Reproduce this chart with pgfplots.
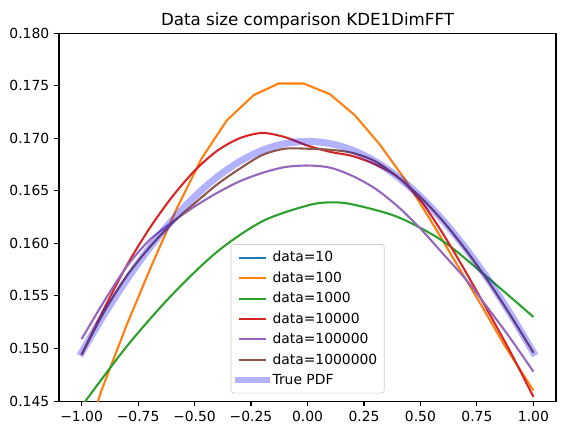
\documentclass[border=0pt]{standalone}
\usepackage{pgfplots}
\pgfplotsset{compat=1.18}
\usepackage{fontspec}
\setmainfont{DejaVu Sans}

% matplotlib "tab10" colours
\definecolor{c0}{HTML}{1F77B4}
\definecolor{c1}{HTML}{FF7F0E}
\definecolor{c2}{HTML}{2CA02C}
\definecolor{c3}{HTML}{D62728}
\definecolor{c4}{HTML}{9467BD}
\definecolor{c5}{HTML}{8C564B}

\begin{document}
\begin{tikzpicture}
\useasboundingbox (-42.48pt,-24.48pt) rectangle (364.32pt,288.76pt);
\begin{axis}[
  at={(0pt,0pt)}, anchor=south west,
  scale only axis, width=357.84pt, height=264.96pt,
  xmin=-1.1, xmax=1.1, ymin=0.145, ymax=0.180,
  axis line style={line width=0.8pt},
  tick style={line width=0.8pt, black},
  tick align=outside, major tick length=3.5pt,
  xtick pos=bottom, ytick pos=left,
  xtick={-1,-0.75,-0.5,-0.25,0,0.25,0.5,0.75,1},
  xticklabels={−1.00,−0.75,−0.50,−0.25,0.00,0.25,0.50,0.75,1.00},
  ytick={0.145,0.150,0.155,0.160,0.165,0.170,0.175,0.180},
  yticklabels={0.145,0.150,0.155,0.160,0.165,0.170,0.175,0.180},
  ticklabel style={font=\fontsize{10}{12}\selectfont},
  title={Data size comparison KDE1DimFFT},
  every axis title/.style={at={(0.5,1)}, anchor=base, yshift=5.8pt,
    font=\fontsize{12}{14}\selectfont},
  legend style={at={(0.3455,0.021)}, anchor=south west, draw=black!20,
    rounded corners=2pt, font=\fontsize{10}{12}\selectfont,
    row sep=1.6pt, inner sep=3pt},
  legend cell align=left,
  legend image code/.code={\draw[#1] (0cm,0cm) -- (0.7cm,0cm);},
]
% data=10 has no points inside the plotted window
\addlegendimage{c0, line width=1.5pt}
\addlegendentry{data=10}

\addplot[c1, line width=1.5pt] coordinates {
(-1.0,0.1403) (-0.912,0.1460) (-0.801,0.1522) (-0.690,0.1579) (-0.579,0.1633)
(-0.468,0.1681) (-0.357,0.1717) (-0.238,0.1741) (-0.128,0.1752) (-0.017,0.1752)
(0.098,0.1742) (0.209,0.1722) (0.320,0.1694) (0.431,0.1661) (0.542,0.1623)
(0.653,0.1583) (0.764,0.1543) (0.875,0.1502) (1.0,0.1460)};
\addlegendentry{data=100}

\addplot[c2, line width=1.5pt, smooth] coordinates {
(-1.0,0.1445) (-0.8,0.1502) (-0.6,0.1551) (-0.4,0.1592) (-0.2,0.1621)
(0.0,0.1636) (0.1,0.1639) (0.2,0.1637) (0.4,0.1625) (0.6,0.1602)
(0.8,0.1567) (1.0,0.1530)};
\addlegendentry{data=1000}

\addplot[c3, line width=1.5pt, smooth] coordinates {
(-1.0,0.1494) (-0.9,0.1538) (-0.8,0.1579) (-0.7,0.1614) (-0.6,0.1644)
(-0.5,0.1669) (-0.4,0.1688) (-0.3,0.1700) (-0.2,0.1705) (-0.1,0.1701)
(0.0,0.1693) (0.1,0.1687) (0.2,0.1683) (0.3,0.1675) (0.4,0.1663)
(0.5,0.1641) (0.6,0.1609) (0.7,0.1573) (0.8,0.1535) (0.9,0.1496)
(1.0,0.1454)};
\addlegendentry{data=10000}

\addplot[c4, line width=1.5pt, smooth] coordinates {
(-1.0,0.1509) (-0.9,0.1545) (-0.8,0.1578) (-0.7,0.1603) (-0.6,0.1620)
(-0.5,0.1635) (-0.4,0.1648) (-0.3,0.1659) (-0.2,0.1667) (-0.1,0.16725)
(0.0,0.1674) (0.1,0.1672) (0.2,0.1664) (0.3,0.1652) (0.4,0.1635)
(0.5,0.1614) (0.6,0.1590) (0.7,0.1566) (0.8,0.1538) (0.9,0.1509)
(1.0,0.1478)};
\addlegendentry{data=100000}

\addplot[c5, line width=1.5pt, smooth] coordinates {
(-1.0,0.1494) (-0.9,0.1535) (-0.8,0.1569) (-0.7,0.1596) (-0.6,0.1619)
(-0.5,0.1638) (-0.4,0.1656) (-0.3,0.1671) (-0.2,0.1684) (-0.1,0.1690)
(0.0,0.1690) (0.1,0.1689) (0.2,0.1686) (0.3,0.1678) (0.4,0.1663)
(0.5,0.1644) (0.6,0.1621) (0.7,0.1594) (0.8,0.1564) (0.9,0.1531)
(1.0,0.1496)};
\addlegendentry{data=1000000}

\addplot[blue, opacity=0.3, line width=5pt, line cap=rect, smooth] coordinates {
(-1.0,0.14961) (-0.9,0.15323) (-0.8,0.15655) (-0.7,0.15954) (-0.6,0.16217)
(-0.5,0.16444) (-0.4,0.16631) (-0.3,0.16779) (-0.2,0.16885) (-0.1,0.16949)
(0.0,0.16970) (0.1,0.16949) (0.2,0.16885) (0.3,0.16779) (0.4,0.16631)
(0.5,0.16444) (0.6,0.16217) (0.7,0.15954) (0.8,0.15655) (0.9,0.15323)
(1.0,0.14961)};
\addlegendentry{True PDF}
\end{axis}
\end{tikzpicture}
\end{document}
